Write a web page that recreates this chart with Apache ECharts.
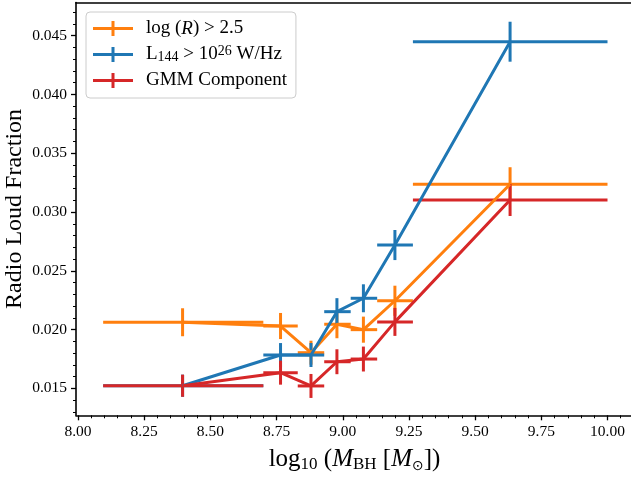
<!DOCTYPE html>
<html><head><meta charset="utf-8">
<script src="https://cdn.jsdelivr.net/npm/echarts@6/dist/echarts.min.js"></script>
<style>html,body{margin:0;padding:0;background:#fff;overflow:hidden}#c{width:631px;height:477px}</style>
</head><body><div id="c"></div>
<script>
// ---- data ----
const xCenters = [8.395, 8.765, 8.88, 8.978, 9.078, 9.197, 9.632];
const binLow   = [8.095, 8.70, 8.83, 8.93, 9.03, 9.13, 9.265];
const binHigh  = [8.70, 8.83, 8.93, 9.03, 9.13, 9.265, 10.0];

const logRFrac = [0.02062, 0.0203, 0.01803, 0.02045, 0.01999, 0.02245, 0.03236];
const logRErr  = [0.00119, 0.00111, 0.00102, 0.00119, 0.00111, 0.00128, 0.00145];

const L144Frac = [0.01522, 0.01783, 0.01783, 0.02152, 0.02266, 0.02719, 0.04449];
const L144Err  = [0.00094, 0.00102, 0.00102, 0.00115, 0.00119, 0.00128, 0.0017];

const gmmFrac  = [0.01522, 0.01633, 0.0152, 0.01726, 0.01749, 0.02065, 0.03102];
const gmmErr   = [0.00094, 0.00102, 0.00102, 0.00106, 0.00106, 0.00119, 0.00136];

const seriesNames = ['log (R) > 2.5', 'L144 > 10^26 W/Hz', 'GMM Component'];

const xTicks = [8.0, 8.25, 8.5, 8.75, 9.0, 9.25, 9.5, 9.75, 10.0];
const xTickLabels = ['8.00', '8.25', '8.50', '8.75', '9.00', '9.25', '9.50', '9.75', '10.00'];
const yTicks = [0.015, 0.02, 0.025, 0.03, 0.035, 0.04, 0.045];
const yTickLabels = ['0.015', '0.020', '0.025', '0.030', '0.035', '0.040', '0.045'];

// ---- styling / layout ----
const FONT = "'Liberation Serif', 'Times New Roman', serif";
const COLORS = ['#ff7f0e', '#1f77b4', '#d62728'];
const X_MIN = 7.99245, X_MAX = 10.0963;
const Y_MIN = 0.012703, Y_MAX = 0.047826;
const GRID = { left: 76, top: 2.5, right: -2, height: 412.8, show: false, containLabel: false, outerBoundsMode: 'none' };

function minorTicks(start, step, count, majors) {
  const out = [];
  for (let k = 0; k < count; k++) {
    const v = +(start + k * step).toFixed(5);
    if (!majors.some(m => Math.abs(m - v) < step / 10)) out.push(v);
  }
  return out;
}
const xMinor = minorTicks(8.0, 0.05, 42, xTicks);
const yMinor = minorTicks(0.013, 0.001, 35, yTicks);

function labelFor(list, labels) {
  return function (v) {
    for (let i = 0; i < list.length; i++) if (Math.abs(list[i] - v) < 1e-7) return labels[i];
    return '';
  };
}

function errRender(params, api) {
  const x = api.value(0), y = api.value(1);
  const pL = api.coord([api.value(2), y]), pR = api.coord([api.value(3), y]);
  const pB = api.coord([x, api.value(4)]), pT = api.coord([x, api.value(5)]);
  const style = { stroke: api.visual('color'), lineWidth: 3, lineCap: 'butt', fill: null };
  return { type: 'group', children: [
    { type: 'line', shape: { x1: pL[0], y1: pL[1], x2: pR[0], y2: pR[1] }, style: style },
    { type: 'line', shape: { x1: pB[0], y1: pB[1], x2: pT[0], y2: pT[1] }, style: style }
  ]};
}

const fracs = [logRFrac, L144Frac, gmmFrac];
const errs = [logRErr, L144Err, gmmErr];
const series = [];
fracs.forEach((frac, s) => {
  const err = errs[s];
  series.push({
    name: seriesNames[s], type: 'custom', renderItem: errRender,
    xAxisIndex: 0, yAxisIndex: 0,
    itemStyle: { color: COLORS[s] }, encode: { x: 0, y: 1 },
    data: xCenters.map((x, i) => [x, frac[i], binLow[i], binHigh[i], frac[i] - err[i], frac[i] + err[i]]),
    z: 2, animation: false
  });
  series.push({
    name: seriesNames[s], type: 'line', symbol: 'none',
    xAxisIndex: 0, yAxisIndex: 0,
    itemStyle: { color: COLORS[s] },
    lineStyle: { color: COLORS[s], width: 3 },
    data: xCenters.map((x, i) => [x, frac[i]]),
    z: 2, animation: false
  });
});

const legendRich = {
  t: { fontFamily: FONT, fontSize: 19, lineHeight: 20, color: '#000' },
  t0: { fontFamily: FONT, fontSize: 19, lineHeight: 20, color: '#000', padding: [0, 0, 0, 8] },
  i: { fontFamily: FONT, fontSize: 19, lineHeight: 20, color: '#000', fontStyle: 'italic' },
  sub: { fontFamily: FONT, fontSize: 14, lineHeight: 20, color: '#000', verticalAlign: 'bottom' },
  sup: { fontFamily: FONT, fontSize: 14, lineHeight: 20, color: '#000', verticalAlign: 'top' }
};
function legendFormat(name) {
  if (name === seriesNames[0]) return '{t0|log (}{i|R}{t|) > 2.5}';
  if (name === seriesNames[1]) return '{t0|L}{sub|144}{t| > 10}{sup|26}{t| W/Hz}';
  return '{t0|GMM Component}';
}

const xNameRich = {
  t: { fontFamily: FONT, fontSize: 25, lineHeight: 28, color: '#000' },
  i: { fontFamily: FONT, fontSize: 25, lineHeight: 28, color: '#000', fontStyle: 'italic' },
  sub: { fontFamily: FONT, fontSize: 17, lineHeight: 28, color: '#000', verticalAlign: 'bottom' },
  subs: { fontFamily: "'DejaVu Sans', sans-serif", fontSize: 14, lineHeight: 28, color: '#000', verticalAlign: 'bottom' }
};

const chart = echarts.init(document.getElementById('c'), null, { renderer: 'canvas' });
chart.setOption({
  animation: false,
  backgroundColor: '#fff',
  grid: [Object.assign({}, GRID), Object.assign({}, GRID)],
  legend: {
    orient: 'vertical', left: 86, top: 12,
    data: seriesNames,
    icon: 'path://M0,6 H40 V9 H0 Z M18.5,0 H21.5 V15 H18.5 Z',
    itemWidth: 40, itemHeight: 15, itemGap: 6.5,
    padding: [7, 9, 8, 7],
    backgroundColor: 'rgba(255,255,255,0.8)', borderColor: '#cccccc', borderWidth: 1, borderRadius: 4,
    formatter: legendFormat,
    textStyle: { fontFamily: FONT, fontSize: 19, color: '#000', rich: legendRich },
    selectedMode: false
  },
  xAxis: [{
    gridIndex: 0, type: 'value', min: X_MIN, max: X_MAX, position: 'bottom',
    axisLine: { show: true, lineStyle: { color: '#000', width: 1.6 } },
    axisTick: { show: true, customValues: xTicks, length: 5, lineStyle: { color: '#000', width: 1.3 } },
    axisLabel: { show: true, customValues: xTicks, formatter: labelFor(xTicks, xTickLabels), margin: 9,
      fontFamily: FONT, fontSize: 15.5, color: '#000' },
    splitLine: { show: false },
    name: '{t|log}{sub|10}{t| (}{i|M}{sub|BH}{t| [}{i|M}{subs|⊙}{t|])}',
    nameLocation: 'middle', nameGap: 30, nameMoveOverlap: false,
    nameTextStyle: { fontFamily: FONT, fontSize: 25, color: '#000', rich: xNameRich }
  }, {
    gridIndex: 0, type: 'value', min: X_MIN, max: X_MAX, position: 'top',
    axisLine: { show: true, lineStyle: { color: '#000', width: 1.6 } },
    axisTick: { show: false }, axisLabel: { show: false }, splitLine: { show: false }
  }, {
    gridIndex: 1, type: 'value', min: X_MIN, max: X_MAX, position: 'bottom',
    axisLine: { show: false },
    axisTick: { show: true, customValues: xMinor, length: 3, lineStyle: { color: '#000', width: 1 } },
    axisLabel: { show: false }, splitLine: { show: false }
  }],
  yAxis: [{
    gridIndex: 0, type: 'value', min: Y_MIN, max: Y_MAX, position: 'left',
    axisLine: { show: true, lineStyle: { color: '#000', width: 1.6 } },
    axisTick: { show: true, customValues: yTicks, length: 5, lineStyle: { color: '#000', width: 1.3 } },
    axisLabel: { show: true, customValues: yTicks, formatter: labelFor(yTicks, yTickLabels), margin: 9,
      fontFamily: FONT, fontSize: 15.5, color: '#000' },
    splitLine: { show: false },
    name: 'Radio Loud Fraction', nameLocation: 'middle', nameGap: 49, nameRotate: 90, nameMoveOverlap: false,
    nameTextStyle: { fontFamily: FONT, fontSize: 24, color: '#000' }
  }, {
    gridIndex: 1, type: 'value', min: Y_MIN, max: Y_MAX, position: 'left',
    axisLine: { show: false },
    axisTick: { show: true, customValues: yMinor, length: 3, lineStyle: { color: '#000', width: 1 } },
    axisLabel: { show: false }, splitLine: { show: false }
  }],
  series: series
});
</script>
</body></html>
